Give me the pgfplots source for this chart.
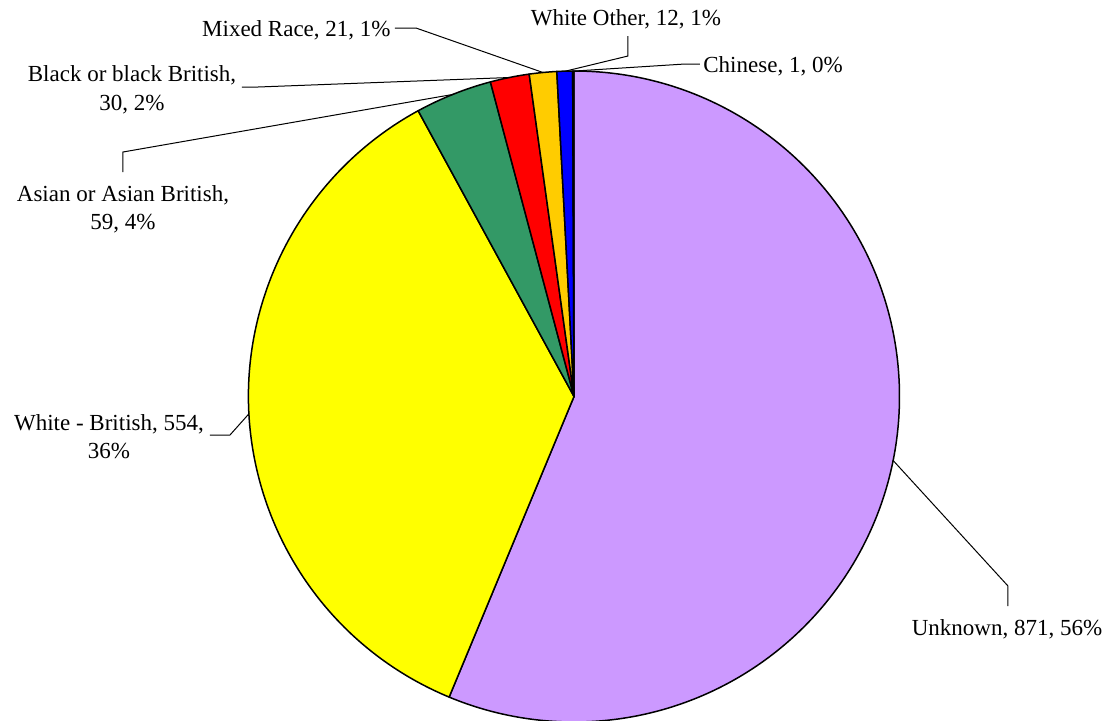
\documentclass[border=0pt]{standalone}
\usepackage{fontspec}
\setmainfont{Liberation Serif}
\usepackage{pgfplots}
\pgfplotsset{compat=1.18}

\definecolor{cUnknown}{HTML}{CC99FF}
\definecolor{cWhiteBr}{HTML}{FFFF00}
\definecolor{cAsian}{HTML}{339966}
\definecolor{cBlack}{HTML}{FF0000}
\definecolor{cMixed}{HTML}{FFCC00}
\definecolor{cWhiteOt}{HTML}{0000FF}
\definecolor{cChinese}{HTML}{00CCFF}

% total of all groups
\def\total{1548}
\def\rad{162.75}
% slice from cumulative count #1 to #2, clockwise from the top
\newcommand{\slice}[3]{%
  \filldraw[fill=#3, draw=black, line width=0.75pt, line join=round]
    (axis cs:0,0) -- (axis cs:{\rad*cos(90-#1/\total*360)},{\rad*sin(90-#1/\total*360)})
    arc[start angle={90-#1/\total*360}, end angle={90-#2/\total*360}, radius=\rad] -- cycle;}

\begin{document}
\begin{tikzpicture}[lbl/.style={font=\fontsize{11.5}{14}\selectfont, inner sep=0pt},
                    lead/.style={draw=black, line width=0.5pt}]
\begin{axis}[x=1pt, y=1pt, xmin=-287, xmax=265.5, ymin=-161.75, ymax=198.25,
             disabledatascaling, hide axis, clip=false]
  % counts: Unknown 871, White - British 554, Asian 59, Black 30, Mixed 21, White Other 12, Chinese 1
  \slice{0}{871}{cUnknown}
  \slice{871}{1425}{cWhiteBr}
  \slice{1425}{1484}{cAsian}
  \slice{1484}{1514}{cBlack}
  \slice{1514}{1535}{cMixed}
  \slice{1535}{1547}{cWhiteOt}
  \slice{1547}{1548}{cChinese}

  % leader lines
  \draw[lead] (axis cs:217,-104.75) -- (axis cs:217,-94.75) -- (axis cs:159.4,-31.8);
  \draw[lead] (axis cs:-182,-19.25) -- (axis cs:-172,-19.25) -- (axis cs:-162.4,-8.5);
  \draw[lead] (axis cs:-225.5,112.25) -- (axis cs:-225.5,122.25) -- (axis cs:-60.2,151.1);
  \draw[lead] (axis cs:-166,154.75) -- (axis cs:-158,154.75) -- (axis cs:-32.2,159.5);
  \draw[lead] (axis cs:-89.5,184.25) -- (axis cs:-79,184.25) -- (axis cs:-15.5,162.0);
  \draw[lead] (axis cs:27,180.25) -- (axis cs:27,170.25) -- (axis cs:-4.6,162.6);
  \draw[lead] (axis cs:63,166.25) -- (axis cs:55.5,166.25) -- (axis cs:-0.3,162.7);

  % labels
  \node[lbl, anchor=base] at (axis cs:216.5,-119.25) {Unknown, 871, 56\%};
  \node[lbl, anchor=base] at (axis cs:-232.5,-16.75) {White - British, 554,};
  \node[lbl, anchor=base] at (axis cs:-232.5,-30.75) {36\%};
  \node[lbl, anchor=base] at (axis cs:-225.5,97.4) {Asian or Asian British,};
  \node[lbl, anchor=base] at (axis cs:-225.5,83.75) {59, 4\%};
  \node[lbl, anchor=base] at (axis cs:-221,157.4) {Black or black British,};
  \node[lbl, anchor=base] at (axis cs:-221,143.25) {30, 2\%};
  \node[lbl, anchor=base east] at (axis cs:-91.5,179.9) {Mixed Race, 21, 1\%};
  \node[lbl, anchor=base] at (axis cs:26,185.75) {White Other, 12, 1\%};
  \node[lbl, anchor=base west] at (axis cs:64.5,162.25) {Chinese, 1, 0\%};
\end{axis}
\pgfresetboundingbox
\useasboundingbox (current axis.south west) rectangle (current axis.north east);
\end{tikzpicture}
\end{document}
